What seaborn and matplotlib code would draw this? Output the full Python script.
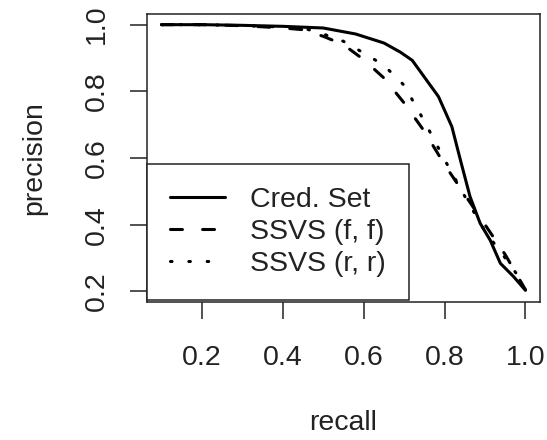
import numpy as np
import pandas as pd
import seaborn as sns
import matplotlib
matplotlib.use("Agg")
import matplotlib.pyplot as plt
from matplotlib.lines import Line2D

# data
cred_recall = [0.1, 0.2, 0.3, 0.4, 0.5, 0.58, 0.65, 0.69, 0.72, 0.785, 0.818, 0.84, 0.863, 0.888, 0.913, 0.938, 0.97, 1.0]
cred_prec   = [1.0, 1.0, 0.998, 0.995, 0.99, 0.972, 0.945, 0.918, 0.893, 0.784, 0.694, 0.59, 0.484, 0.404, 0.353, 0.284, 0.245, 0.203]

ff_recall = [0.1, 0.2, 0.3, 0.4, 0.45, 0.5, 0.55, 0.6, 0.65, 0.7, 0.75, 0.8, 0.85, 0.9, 0.95, 1.0]
ff_prec   = [1.0, 1.0, 0.997, 0.99, 0.985, 0.965, 0.94, 0.895, 0.84, 0.765, 0.68, 0.58, 0.49, 0.40, 0.31, 0.205]

rr_recall = [0.1, 0.2, 0.3, 0.4, 0.45, 0.5, 0.55, 0.6, 0.65, 0.7, 0.75, 0.8, 0.85, 0.9, 0.95, 1.0]
rr_prec   = [1.0, 1.0, 0.997, 0.993, 0.99, 0.972, 0.95, 0.915, 0.878, 0.818, 0.71, 0.595, 0.485, 0.38, 0.30, 0.215]

labels = ["Cred. Set", "SSVS (f, f)", "SSVS (r, r)"]

df = pd.concat([
    pd.DataFrame({"recall": cred_recall, "precision": cred_prec, "method": labels[0]}),
    pd.DataFrame({"recall": ff_recall, "precision": ff_prec, "method": labels[1]}),
    pd.DataFrame({"recall": rr_recall, "precision": rr_prec, "method": labels[2]}),
])

sns.set_style("white")
plt.rcParams["font.family"] = ["Liberation Sans", "DejaVu Sans"]

fig = plt.figure(figsize=(5.47, 4.40), dpi=100)
ax = fig.add_axes([147/547, (440-302)/440, (540-147)/547, (302-14)/440])

lw = 2.2
fs = 20.5
dash_map = {labels[0]: "", labels[1]: (3.9, 6.6), labels[2]: (0.5, 5.5)}
sns.lineplot(data=df, x="recall", y="precision", style="method", dashes=dash_map,
             color="black", linewidth=lw, estimator=None, sort=False, ax=ax, legend=False)
for ln in ax.get_lines():
    ln.set_dash_capstyle("round")
    ln.set_solid_capstyle("round")
    ln.set_solid_joinstyle("round")

ax.set_xlim(0.064, 1.036)
ax.set_ylim(0.168, 1.032)
ax.set_xticks([0.2, 0.4, 0.6, 0.8, 1.0])
ax.set_yticks([0.2, 0.4, 0.6, 0.8, 1.0])
ax.set_xticklabels(["0.2", "0.4", "0.6", "0.8", "1.0"])
ax.set_yticklabels(["0.2", "0.4", "0.6", "0.8", "1.0"], rotation=90, va="center")
ax.tick_params(axis="x", which="major", direction="out", length=12, width=1.1,
               color="#222222", labelsize=fs, labelcolor="#222222", pad=19, bottom=True)
ax.tick_params(axis="y", which="major", direction="out", length=12, width=1.1,
               color="#222222", labelsize=fs, labelcolor="#222222", pad=15, left=True)
for s in ax.spines.values():
    s.set_visible(True)
    s.set_color("#222222")
    s.set_linewidth(1.1)

ax.set_xlabel("recall", fontsize=fs, color="#222222", labelpad=28)
ax.set_ylabel("precision", fontsize=fs, color="#222222", labelpad=26)

handles = []
for lab in labels:
    d = dash_map[lab]
    h = Line2D([], [], color="black", linewidth=lw,
               linestyle="-" if d == "" else (0, d),
               dash_capstyle="round", solid_capstyle="round")
    handles.append(h)
leg = ax.legend(handles, labels, loc="lower left", bbox_to_anchor=(0.0, 0.007),
                fontsize=fs, frameon=True, fancybox=False, edgecolor="#222222",
                framealpha=1, borderaxespad=0, handlelength=1.93, handletextpad=0.88,
                borderpad=0.82, labelspacing=0.2)
leg.get_frame().set_linewidth(1.1)
for t in leg.get_texts():
    t.set_color("#222222")

fig.savefig("out.png", dpi=100)
